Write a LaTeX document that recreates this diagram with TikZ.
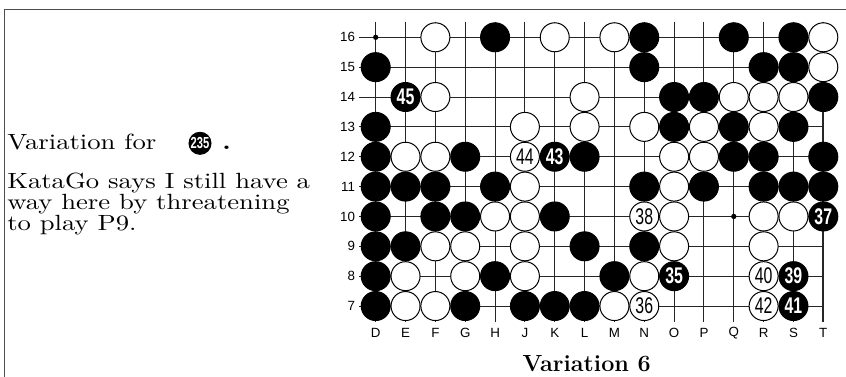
\documentclass[tikz,border=0pt]{standalone}
\usepackage{fontspec}
\usepackage{graphicx}
\usetikzlibrary{calc}
\newfontfamily\labelfont{Liberation Sans}
\newfontfamily\stonenum[FakeStretch=0.7]{Liberation Sans}
\newcommand\notewide[1]{\scalebox{2.0}[1.65]{#1}}

\begin{document}
\begin{tikzpicture}[x=0.75pt, y=-0.75pt,
    gridline/.style={line width=0.75pt, black!85},
    edgeline/.style={line width=1.6pt, black!85},
    frameline/.style={line width=0.9pt, black!70},
    stone/.style={circle, draw=black, line width=0.75pt, minimum size=21.75pt,
                  inner sep=0pt, font=\stonenum\fontsize{17}{17}\selectfont},
    bstone/.style={stone, fill=black, text=white,
                   font=\stonenum\bfseries\fontsize{17}{17}\selectfont},
    wstone/.style={stone, fill=white, text=black},
    coordlabel/.style={font=\labelfont\fontsize{10}{10}\selectfont, inner sep=0pt}]
  \useasboundingbox (0,0) rectangle (846,377);
  \draw[frameline] (4.3,377) -- (4.3,9.3) -- (846,9.3);

  % board points
  \foreach \c [count=\i from 0] in {D,E,F,G,H,J,K,L,M,N,O,P,Q,R,S,T}
    \foreach \r in {7,...,16}
      \coordinate (\c\r) at ({375.7+29.84*\i},{37.3+29.86*(16-\r)});

  % grid
  \foreach \c in {D,E,F,G,H,J,K,L,M,N,O,P,Q,R,S}
    \draw[gridline] ($(\c16)+(0,-15.6)$) -- ($(\c7)+(0,15.7)$);
  \draw[edgeline] ($(T16)+(0,-15.6)$) -- ($(T7)+(0,15.7)$);
  \foreach \r in {7,...,16}
    \draw[gridline] ($(D\r)+(-16.7,0)$) -- (T\r);
  \fill (D16) circle (2pt);
  \fill (Q10) circle (2pt);

  % coordinates
  \foreach \r in {7,...,16}
    \node[coordlabel, anchor=east] (row\r) at ($(D\r)+(-20.5,0)$) {\r};
  \foreach \c in {D,E,F,G,H,J,K,L,M,N,O,P,Q,R,S,T}
    \node[coordlabel] (col\c) at ($(\c7)+(0,26.7)$) {\c};

  % stones
  \foreach \p in {H16,N16,Q16,S16, D15,N15,R15,S15, O14,P14,T14,
                  D13,O13,Q13,S13, D12,G12,L12,Q12,R12,T12,
                  D11,E11,F11,H11,N11,P11,R11,S11,T11, D10,F10,G10,K10,
                  D9,E9,L9,N9, D8,H8,M8, D7,G7,J7,K7,L7}
    \node[bstone] (b\p) at (\p) {};
  \foreach \p in {F16,K16,M16,T16, T15, F14,L14,Q14,R14,S14,
                  J13,L13,N13,P13,R13, E12,F12,O12,P12, J11,O11,
                  H10,J10,O10,R10,S10, F9,G9,J9,O9,R9, E8,G8,J8,N8, E7,F7,M7}
    \node[wstone] (w\p) at (\p) {};
  \node[bstone] (m35) at (O8) {35};
  \node[wstone] (m36) at (N7) {36};
  \node[bstone] (m37) at (T10) {37};
  \node[wstone] (m38) at (N10) {38};
  \node[bstone] (m39) at (S8) {39};
  \node[wstone] (m40) at (R8) {40};
  \node[bstone] (m41) at (S7) {41};
  \node[wstone] (m42) at (R7) {42};
  \node[bstone] (m43) at (K12) {43};
  \node[wstone] (m44) at (J12) {44};
  \node[bstone] (m45) at (E14) {45};

  % note
  \node[anchor=base west, inner sep=0pt, font=\fontsize{10}{16}\selectfont]
    (varfor) at (7,150) {\notewide{Variation for}};
  \node[bstone, minimum size=16.5pt, font=\stonenum\bfseries\fontsize{12}{12}\selectfont]
    (m235) at (200,143.3) {235};
  \node[anchor=base west, inner sep=0pt, font=\fontsize{10}{16}\selectfont]
    (stop) at (222,150) {\notewide{\textbf{.}}};
  \node[anchor=base west, inner sep=0pt, align=left,
        font=\fontsize{10}{16}\selectfont] (comment) at (7,231)
    {\notewide{KataGo says I still have a}\\
     \notewide{way here by threatening}\\
     \notewide{to play P9.}};
  \node[anchor=base, inner sep=0pt, font=\bfseries\fontsize{17.5}{18}\selectfont]
    (caption) at (586.7,371.7) {Variation 6};
\end{tikzpicture}
\end{document}
